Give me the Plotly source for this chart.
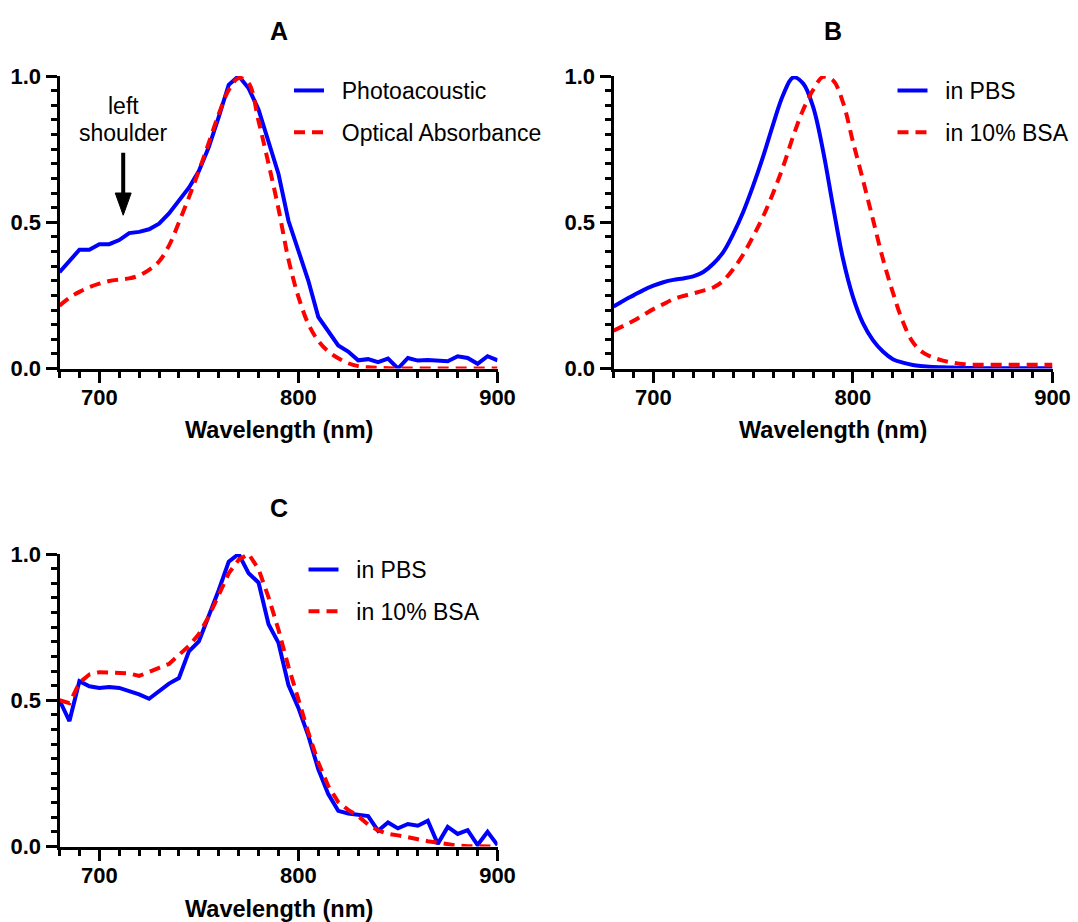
import plotly.graph_objects as go

# ---------------- data ----------------
wavelength = list(range(680, 905, 5))  # 680 ... 900 nm, 5 nm steps

# Panel A
a_photoacoustic = [0.329, 0.368, 0.406, 0.406, 0.425, 0.425, 0.439, 0.463, 0.467, 0.476,
                   0.495, 0.530, 0.572, 0.618, 0.675, 0.757, 0.860, 0.970, 1.000, 0.958,
                   0.885, 0.780, 0.665, 0.505, 0.400, 0.300, 0.176, 0.127, 0.079, 0.058,
                   0.028, 0.032, 0.022, 0.034, 0.000, 0.036, 0.027, 0.029, 0.028, 0.025,
                   0.042, 0.036, 0.016, 0.042, 0.028]
a_optical = [0.215, 0.242, 0.262, 0.278, 0.290, 0.299, 0.304, 0.308, 0.318, 0.337,
             0.366, 0.420, 0.500, 0.585, 0.676, 0.772, 0.870, 0.952, 0.993, 0.975,
             0.845, 0.700, 0.546, 0.373, 0.245, 0.152, 0.094, 0.058, 0.035, 0.018,
             0.008, 0.004, 0.002, 0.001, 0.000, 0.000, 0.000, 0.000, 0.000, 0.000,
             0.000, 0.000, 0.000, 0.000, 0.000]

# Panel B
b_pbs = [0.212, 0.232, 0.250, 0.268, 0.283, 0.295, 0.303, 0.308, 0.315, 0.330,
         0.358, 0.398, 0.460, 0.535, 0.625, 0.725, 0.835, 0.935, 0.995, 0.975,
         0.895, 0.745, 0.555, 0.375, 0.245, 0.155, 0.097, 0.058, 0.032, 0.020,
         0.012, 0.008, 0.005, 0.004, 0.003, 0.002, 0.002, 0.001, 0.001, 0.001,
         0.001, 0.001, 0.001, 0.001, 0.001]
b_bsa = [0.129, 0.146, 0.163, 0.183, 0.203, 0.220, 0.237, 0.248, 0.257, 0.266,
         0.277, 0.300, 0.340, 0.390, 0.452, 0.520, 0.600, 0.690, 0.793, 0.884,
         0.952, 0.997, 0.985, 0.910, 0.775, 0.645, 0.510, 0.375, 0.260, 0.160,
         0.090, 0.055, 0.038, 0.027, 0.020, 0.015, 0.013, 0.013, 0.013, 0.013,
         0.013, 0.013, 0.013, 0.013, 0.013]

# Panel C
c_pbs = [0.500, 0.429, 0.565, 0.548, 0.542, 0.545, 0.542, 0.531, 0.520, 0.505,
         0.531, 0.557, 0.576, 0.667, 0.701, 0.786, 0.877, 0.974, 1.000, 0.934,
         0.902, 0.760, 0.696, 0.552, 0.474, 0.378, 0.264, 0.179, 0.122, 0.113,
         0.108, 0.104, 0.054, 0.082, 0.062, 0.077, 0.071, 0.088, 0.009, 0.067,
         0.043, 0.056, 0.005, 0.050, 0.005]
c_bsa = [0.500, 0.490, 0.560, 0.588, 0.596, 0.594, 0.593, 0.592, 0.583, 0.598,
         0.611, 0.624, 0.655, 0.686, 0.726, 0.787, 0.860, 0.934, 0.980, 1.000,
         0.948, 0.852, 0.741, 0.615, 0.503, 0.389, 0.287, 0.207, 0.152, 0.125,
         0.104, 0.075, 0.055, 0.043, 0.038, 0.033, 0.025, 0.018, 0.012, 0.006,
         0.003, 0.001, 0.000, 0.000, 0.000]

panel_titles = ["A", "B", "C"]
x_title = "Wavelength (nm)"
legend_a = ["Photoacoustic", "Optical Absorbance"]
legend_bc = ["in PBS", "in 10% BSA"]

# ---------------- style ----------------
FONT = "Liberation Sans, Arial, sans-serif"
BLUE = "#0000FF"
RED = "#FF0000"
W, H = 1078, 922
DASH = "11px,7px"
PAD = "\u00a0\u00a0"

def px_x(p):
    return p / W

def px_y(p):
    return 1 - p / H

# plot-area pixel boxes (left, right, top, bottom)
boxA = (59.5, 497.5, 76, 368.5)
boxB = (613.5, 1052.5, 76, 368.5)
boxC = (59.5, 497.5, 554, 846.5)

fig = go.Figure()

def add_pair(xref, yref, legend, ys1, ys2, names, shape1, shape2):
    fig.add_trace(go.Scatter(x=wavelength, y=ys1, mode="lines", name=PAD + names[0],
                             line=dict(color=BLUE, width=4, shape=shape1),
                             xaxis=xref, yaxis=yref, legend=legend,
                             legendgroup=legend + "1"))
    fig.add_trace(go.Scatter(x=wavelength, y=ys2, mode="lines", name=PAD + names[1],
                             line=dict(color=RED, width=4, dash=DASH, shape=shape2),
                             xaxis=xref, yaxis=yref, legend=legend,
                             legendgroup=legend + "2"))

add_pair("x", "y", "legend", a_photoacoustic, a_optical, legend_a, "linear", "spline")
add_pair("x2", "y2", "legend2", b_pbs, b_bsa, legend_bc, "spline", "spline")
add_pair("x3", "y3", "legend3", c_pbs, c_bsa, legend_bc, "linear", "linear")

tickfont = dict(family=FONT, size=22, color="black", weight="bold")

def xaxis(box, anchor):
    return dict(domain=[px_x(box[0]), px_x(box[1])], range=[680, 900],
                dtick=100,
                ticks="outside", ticklen=11, tickwidth=3, tickcolor="black",
                showline=True, linewidth=3, linecolor="black",
                showgrid=False, zeroline=False, tickfont=tickfont, anchor=anchor,
                ticklabelstandoff=-4,
                minor=dict(dtick=10, ticks="outside", ticklen=6,
                           tickwidth=3, tickcolor="black"))

def yaxis(box, anchor):
    return dict(domain=[px_y(box[3]), px_y(box[2])], range=[0, 1],
                dtick=0.5, tickformat=".1f",
                ticks="outside", ticklen=11, tickwidth=3, tickcolor="black",
                showline=True, linewidth=3, linecolor="black",
                showgrid=False, zeroline=False, tickfont=tickfont,
                anchor=anchor,
                minor=dict(dtick=0.05, ticks="outside", ticklen=6,
                           tickwidth=3, tickcolor="black"))

legfont = dict(family=FONT, size=23, color="black")

def legend_at(left_px, top_px):
    return dict(x=px_x(left_px), y=px_y(top_px), xanchor="left", yanchor="top",
                xref="paper", yref="paper", font=legfont, bgcolor="rgba(0,0,0,0)",
                borderwidth=0, itemwidth=30, tracegroupgap=9,
                traceorder="grouped")

fig.update_layout(
    width=W, height=H, autosize=False,
    margin=dict(l=0, r=0, t=0, b=0, pad=0, autoexpand=False),
    paper_bgcolor="white", plot_bgcolor="white",
    font=dict(family=FONT, color="black"),
    xaxis=xaxis(boxA, "y"), yaxis=yaxis(boxA, "x"),
    xaxis2=xaxis(boxB, "y2"), yaxis2=yaxis(boxB, "x2"),
    xaxis3=xaxis(boxC, "y3"), yaxis3=yaxis(boxC, "x3"),
    legend=legend_at(289, 69),
    legend2=legend_at(892.5, 69),
    legend3=legend_at(303.5, 548),
    showlegend=True,
)

# panel titles and axis titles
title_font = dict(family=FONT, size=25, color="black", weight="bold")
axt_font = dict(family=FONT, size=23.5, color="black", weight="bold")
for t, box, ty in [(panel_titles[0], boxA, 31), (panel_titles[1], boxB, 31),
                   (panel_titles[2], boxC, 508)]:
    fig.add_annotation(text=t, x=px_x((box[0] + box[1]) / 2), y=px_y(ty),
                       xref="paper", yref="paper", showarrow=False,
                       xanchor="center", yanchor="middle", font=title_font)
for box, ty in [(boxA, 430), (boxB, 430), (boxC, 909)]:
    fig.add_annotation(text=x_title, x=px_x((box[0] + box[1]) / 2), y=px_y(ty),
                       xref="paper", yref="paper", showarrow=False,
                       xanchor="center", yanchor="middle", font=axt_font)

# "left shoulder" annotation with arrow (panel A)
note_font = dict(family=FONT, size=23, color="black")
fig.add_annotation(text="left", x=712, y=0.897, xref="x", yref="y",
                   showarrow=False, xanchor="center", yanchor="middle", font=note_font)
fig.add_annotation(text="shoulder", x=712, y=0.806, xref="x", yref="y",
                   showarrow=False, xanchor="center", yanchor="middle", font=note_font)
fig.add_shape(type="line", x0=712, x1=712, y0=0.738, y1=0.60, xref="x", yref="y",
              line=dict(color="black", width=4))
fig.add_shape(type="path", path="M 708,0.600 L 716,0.600 L 712,0.524 Z",
              xref="x", yref="y", fillcolor="black", line=dict(color="black", width=1))

fig.write_html("out.html")
